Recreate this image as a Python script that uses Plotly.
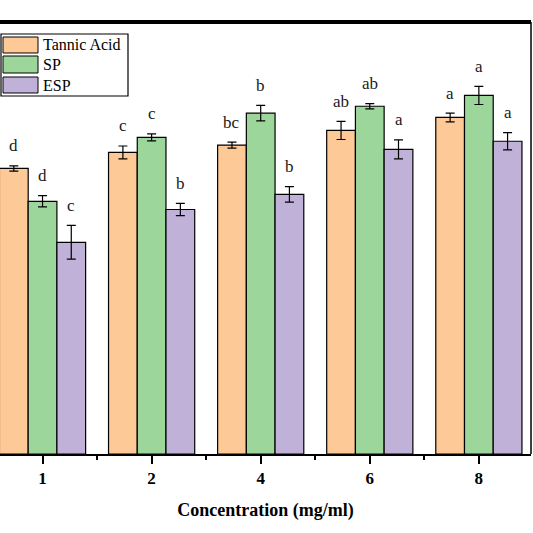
import plotly.graph_objects as go

# concentration groups (mg/ml)
categories = ["1", "2", "4", "6", "8"]
series_names = ["Tannic Acid", "SP", "ESP"]

# values (left axis is cropped, 0-100 scale assumed)
tannic = [66.1, 69.8, 71.5, 74.9, 77.9]
tannic_err = [0.6, 1.5, 0.7, 2.1, 1.0]
sp = [58.5, 73.3, 78.9, 80.5, 83.0]
sp_err = [1.3, 0.8, 1.8, 0.6, 2.1]
esp = [49.0, 56.6, 60.1, 70.5, 72.4]
esp_err = [3.9, 1.4, 1.8, 2.2, 2.0]

# significance letters
tannic_lbl = ["d", "c", "bc", "ab", "a"]
sp_lbl = ["d", "c", "b", "ab", "a"]
esp_lbl = ["c", "b", "b", "a", "a"]

colors = ["#FDC997", "#9DD69B", "#C0B1D8"]
FONT = "Times New Roman, Liberation Serif, serif"

W, H = 533, 533
ML, MR, MT, MB = 0, 2, 22, 79
BARGAP = 0.21

xpos = list(range(len(categories)))
values = [tannic, sp, esp]
errors = [tannic_err, sp_err, esp_err]
labels = [tannic_lbl, sp_lbl, esp_lbl]

fig = go.Figure()
for k in range(3):
    fig.add_trace(go.Bar(
        x=xpos, y=values[k], name=series_names[k],
        marker=dict(color=colors[k], line=dict(color="black", width=1.2)),
        error_y=dict(type="data", array=errors[k], color="black",
                     thickness=1.2, width=4.5),
        showlegend=False,
    ))

# letters above error bars
bw = (1 - BARGAP) / 3
for k in range(3):
    for i in range(len(categories)):
        fig.add_annotation(
            x=xpos[i] + (k - 1) * bw, y=values[k][i] + errors[k][i],
            text=labels[k][i], showarrow=False, yanchor="middle", yshift=20,
            font=dict(family=FONT, size=17, color="#1a1a1a"),
        )

# manual legend (pixel -> paper coords)
pw = W - ML - MR
ph = H - MT - MB
def px(x):
    return (x - ML) / pw
def py(y):
    return (H - MB - y) / ph

fig.add_shape(type="rect", xref="paper", yref="paper",
              x0=px(1), x1=px(128), y0=py(96), y1=py(34),
              line=dict(color="black", width=1.2), fillcolor="white")
rows = [(37, 53), (56, 73), (77, 93)]
for k, (t, b) in enumerate(rows):
    fig.add_shape(type="rect", xref="paper", yref="paper",
                  x0=px(3), x1=px(38), y0=py(b), y1=py(t),
                  line=dict(color="black", width=1), fillcolor=colors[k])
    fig.add_annotation(xref="paper", yref="paper", x=px(41), y=py((t + b) / 2),
                       text=series_names[k], showarrow=False,
                       xanchor="left", yanchor="middle",
                       font=dict(family=FONT, size=16, color="black"))

# frame: thick top, thin right (left side is cropped away)
fig.add_shape(type="line", xref="paper", yref="paper", x0=0, x1=1, y0=1, y1=1,
              line=dict(color="black", width=4))
fig.add_shape(type="line", xref="paper", yref="paper", x0=1, x1=1, y0=0, y1=1,
              line=dict(color="black", width=1.5))

fig.update_layout(
    width=W, height=H,
    margin=dict(l=ML, r=MR, t=MT, b=MB),
    plot_bgcolor="white", paper_bgcolor="white",
    barmode="group", bargap=BARGAP, bargroupgap=0,
    font=dict(family=FONT, color="black"),
)
fig.update_xaxes(
    range=[-0.39, 4.478],
    tickvals=xpos, ticktext=categories,
    ticks="outside", ticklen=8, tickwidth=2, tickcolor="black",
    tickfont=dict(family=FONT, size=17, color="black", weight="bold"),
    minor=dict(tickvals=[0.5, 1.5, 2.5, 3.5], ticks="outside", ticklen=4,
               tickwidth=2, tickcolor="black"),
    showline=True, linecolor="black", linewidth=2,
    showgrid=False, zeroline=False,
    title=dict(text="<b>Concentration (mg/ml)</b>", standoff=16,
               font=dict(family=FONT, size=18, color="black")),
)
fig.update_yaxes(range=[0, 100], showticklabels=False, ticks="",
                 showgrid=False, zeroline=False, showline=False)

# drop the page's default body margin so the figure sits at the window corner
fig.write_html("out.html", config={"displayModeBar": False},
               post_script="document.body.style.margin='0';")
